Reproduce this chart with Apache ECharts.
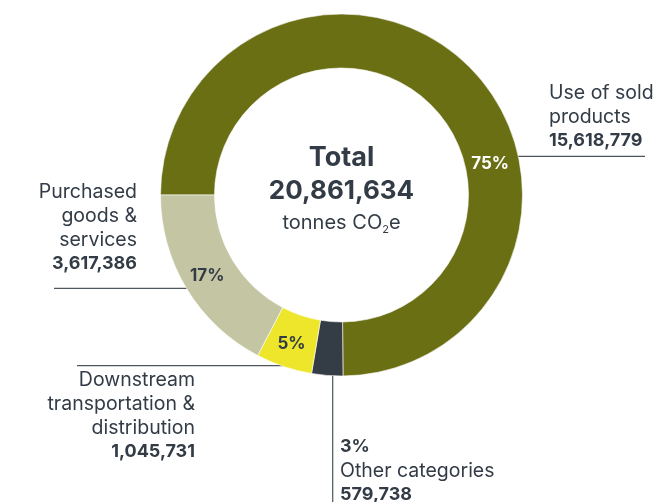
<!DOCTYPE html>
<html>
<head>
<meta charset="utf-8">
<script src="https://cdn.jsdelivr.net/npm/echarts@6/dist/echarts.min.js"></script>
<style>
  html, body { margin: 0; padding: 0; background: #ffffff; }
  #chart { width: 653px; height: 502px; }
</style>
</head>
<body>
<div id="chart"></div>
<script>
// Scope 3 emission categories, in drawing order (clockwise from 9 o'clock)
const categories = ['Use of sold products', 'Other categories', 'Downstream transportation & distribution', 'Purchased goods & services'];
const categoryLines = [['Use of sold', 'products'], ['Other categories'], ['Downstream', 'transportation &', 'distribution'], ['Purchased', 'goods &', 'services']];
const emissions = [15618779, 579738, 1045731, 3617386];
const sliceColors = ['#6a6f14', '#343c45', '#ede62b', '#c4c6a3'];
const pctColors = ['#ffffff', '#333c46', '#333c46', '#333c46'];
const totalTitle = 'Total';
const unitMain = 'tonnes CO';
const unitSub = '2';
const unitTail = 'e';

const FONT = 'Inter, "Noto Sans", sans-serif';
const TEXT = '#333c46';
const GUIDE = '#4d555d';
const CX = 341.5, CY = 195, R_IN = 127, R_OUT = 181, START = 180;

const total = emissions.reduce((a, b) => a + b, 0);
const fmt = v => v.toLocaleString('en-US');
const pct = v => Math.round(v / total * 100) + '%';

// mid angle of each slice (degrees, counter-clockwise from 3 o'clock)
const midAngles = [];
{
  let acc = 0;
  emissions.forEach(v => {
    midAngles.push(START - (acc + v / 2) / total * 360);
    acc += v;
  });
}
const polar = (r, deg) => [CX + r * Math.cos(deg * Math.PI / 180), CY - r * Math.sin(deg * Math.PI / 180)];

const chart = echarts.init(document.getElementById('chart'), null, { renderer: 'canvas' });

const pieData = categories.map((name, i) => ({
  name, value: emissions[i],
  itemStyle: { color: sliceColors[i] },
  label: { color: pctColors[i] }
}));

function outerFormatter(p) {
  const i = p.dataIndex;
  const lines = categoryLines[i].map(t => '{n|' + t + '}');
  if (i === 1) return ['{v|' + pct(emissions[i]) + '}'].concat(lines, ['{v|' + fmt(emissions[i]) + '}']).join('\n');
  return lines.concat(['{v|' + fmt(emissions[i]) + '}']).join('\n');
}

const option = {
  animation: false,
  backgroundColor: '#ffffff',
  series: [
    {
      type: 'pie',
      center: [CX, CY],
      radius: [R_IN, R_OUT],
      startAngle: START,
      clockwise: true,
      silent: true,
      data: pieData,
      itemStyle: { borderColor: '#ffffff', borderWidth: 0.6 },
      label: {
        position: 'inside',
        fontFamily: FONT,
        fontWeight: 'bold',
        fontSize: 17,
        formatter: p => p.dataIndex === 1 ? '' : pct(p.value)
      },
      labelLine: { show: false },
      labelLayout: p => {
        if (p.dataIndex === 0) {
          const pt = polar(152, 12);
          return { x: pt[0], y: pt[1], align: 'center', verticalAlign: 'middle' };
        }
        return {};
      }
    },
    {
      type: 'pie',
      center: [CX, CY],
      radius: [R_IN, R_OUT],
      startAngle: START,
      clockwise: true,
      silent: true,
      data: pieData.map(d => ({ name: d.name, value: d.value, itemStyle: { color: 'rgba(0,0,0,0)' } })),
      label: {
        position: 'outside',
        fontFamily: FONT,
        formatter: outerFormatter,
        rich: {
          n: { fontFamily: FONT, fontSize: 19.5, color: TEXT, lineHeight: 24 },
          v: { fontFamily: FONT, fontSize: 18, fontWeight: 'bold', color: TEXT, lineHeight: 24 }
        }
      },
      labelLine: { show: true, lineStyle: { color: GUIDE, width: 1.2 } },
      labelLayout: p => {
        const i = p.dataIndex;
        if (i === 0) {
          const a = polar(R_OUT - 1, 12.4);
          return { x: 549, y: 81, align: 'left', verticalAlign: 'top',
                   labelLinePoints: [a, [a[0] + 60, a[1]], [645, a[1]]] };
        }
        if (i === 1) {
          const a = polar(R_OUT - 1, 267.2);
          return { x: 340, y: 435, align: 'left', verticalAlign: 'top',
                   labelLinePoints: [a, [a[0], 440], [a[0], 505]] };
        }
        if (i === 2) {
          const a = polar(R_OUT - 1, midAngles[2]);
          return { x: 195, y: 368, align: 'right', verticalAlign: 'top',
                   labelLinePoints: [a, [a[0] - 60, a[1]], [77, a[1]]] };
        }
        const a = polar(R_OUT - 1, midAngles[3]);
        return { x: 137, y: 180, align: 'right', verticalAlign: 'top',
                 labelLinePoints: [a, [a[0] - 60, a[1]], [54, a[1]]] };
      }
    }
  ],
  graphic: [
    { type: 'text', x: CX, y: 158, style: { text: totalTitle, font: 'bold 27px ' + FONT, fill: TEXT, align: 'center', verticalAlign: 'middle' } },
    { type: 'text', x: CX, y: 191, style: { text: fmt(total), font: 'bold 26px ' + FONT, fill: TEXT, align: 'center', verticalAlign: 'middle' } },
    {
      type: 'text', x: CX, y: 211,
      style: {
        text: '{a|' + unitMain + '}{s|' + unitSub + '}{a|' + unitTail + '}',
        align: 'center', verticalAlign: 'top',
        rich: {
          a: { fontFamily: FONT, fontSize: 20, fill: TEXT, color: TEXT, lineHeight: 24, verticalAlign: 'middle' },
          s: { fontFamily: FONT, fontSize: 11, fill: TEXT, color: TEXT, lineHeight: 11, verticalAlign: 'bottom' }
        }
      }
    }
  ]
};

chart.setOption(option);
</script>
</body>
</html>
